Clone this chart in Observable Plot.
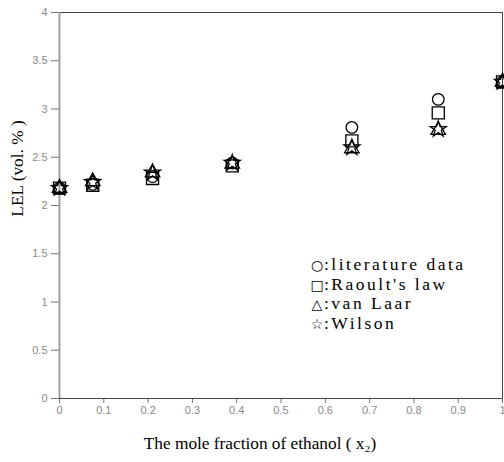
<!DOCTYPE html>
<html>
<head>
<meta charset="utf-8">
<script src="https://cdn.jsdelivr.net/npm/d3@7"></script>
<script src="https://cdn.jsdelivr.net/npm/@observablehq/plot@0.6"></script>
<style>
  body { margin: 0; background: #fff; }
  #wrap { position: relative; width: 504px; height: 462px; }
  #legend { position: absolute; left: 310px; top: 255px; font-family: "Liberation Serif", serif; font-size: 17.5px; line-height: 19.7px; color: #000; white-space: nowrap; }
  #legend .row { height: 19.7px; }
  #legend .sym { display: inline-block; width: 14px; text-align: center; font-family: "DejaVu Sans", sans-serif; font-size: 14px; }
  #legend .lab { letter-spacing: 2.5px; }
</style>
</head>
<body>
<div id="wrap"></div>
<script>
const xFraction = [0, 0.075, 0.21, 0.39, 0.66, 0.855, 1];
const literature = [2.18, 2.22, 2.30, 2.44, 2.81, 3.10, 3.28];
const raoult = [2.18, 2.21, 2.28, 2.41, 2.67, 2.96, 3.28];
const vanLaar = [2.18, 2.25, 2.34, 2.43, 2.59, 2.78, 3.28];
const wilson = [2.18, 2.24, 2.34, 2.44, 2.60, 2.79, 3.28];
const xTicks = [0, 0.1, 0.2, 0.3, 0.4, 0.5, 0.6, 0.7, 0.8, 0.9, 1];
const yTicks = [0, 0.5, 1, 1.5, 2, 2.5, 3, 3.5, 4];
const xLabel = "The mole fraction of ethanol ( x\u2082)";
const yLabel = "LEL (vol. % )";
const legendSymbols = ["\u25CB", "\u25A1", "\u25B3", "\u2606"];
const legendLabels = [":literature data", ":Raoult's law", ":van Laar", ":Wilson"];

const series = [
  {values: literature, symbol: "circle", r: 5.8},
  {values: raoult, symbol: "square", r: 6.8},
  {values: vanLaar, symbol: "triangle", r: 5.4},
  {values: wilson, symbol: "star", r: 5.0}
];
const rows = series.flatMap(s => s.values.map((v, i) => ({x: xFraction[i], y: v, symbol: s.symbol, r: s.r})));

const chart = Plot.plot({
  width: 504,
  height: 462,
  marginLeft: 59,
  marginRight: 2,
  marginTop: 12,
  marginBottom: 64,
  x: {domain: [0, 1]},
  y: {domain: [0, 4]},
  r: {type: "identity"},
  symbol: {type: "identity"},
  style: {fontFamily: "Liberation Sans, sans-serif", background: "#fff"},
  marks: [
    Plot.frame({stroke: "#444", strokeWidth: 1}),
    Plot.axisX({ticks: xTicks, tickSize: 5, tickPadding: 3, tickFormat: d => String(d), label: null, fill: "#888", stroke: "#777", fontSize: 11}),
    Plot.axisY({ticks: yTicks, tickSize: 8, tickPadding: 4, tickFormat: d => String(d), label: null, fill: "#888", stroke: "#777", fontSize: 11}),
    Plot.ruleX([0], {stroke: "#999", strokeWidth: 1.8}),
    Plot.ruleY([0], {stroke: "#444", strokeWidth: 1}),
    Plot.dot(rows, {x: "x", y: "y", symbol: "symbol", r: "r", stroke: "#000", strokeWidth: 1.3, fill: "none", clip: false}),
    Plot.text([xLabel], {frameAnchor: "bottom", textAnchor: "middle", dx: -21, dy: 50, fontFamily: "Liberation Serif, serif", fontSize: 17.3, fill: "#000"}),
    Plot.text([yLabel], {frameAnchor: "left", textAnchor: "middle", lineAnchor: "middle", dx: -42, dy: -37, rotate: -90, fontFamily: "Liberation Serif, serif", fontSize: 17.3, fill: "#000"})
  ]
});
const wrap = document.getElementById("wrap");
wrap.appendChild(chart);
const leg = document.createElement("div");
leg.id = "legend";
legendSymbols.forEach((s, i) => {
  const row = document.createElement("div");
  row.className = "row";
  const sym = document.createElement("span");
  sym.className = "sym";
  sym.textContent = s;
  const lab = document.createElement("span");
  lab.className = "lab";
  lab.textContent = legendLabels[i];
  row.appendChild(sym);
  row.appendChild(lab);
  leg.appendChild(row);
});
wrap.appendChild(leg);
</script>
</body>
</html>
